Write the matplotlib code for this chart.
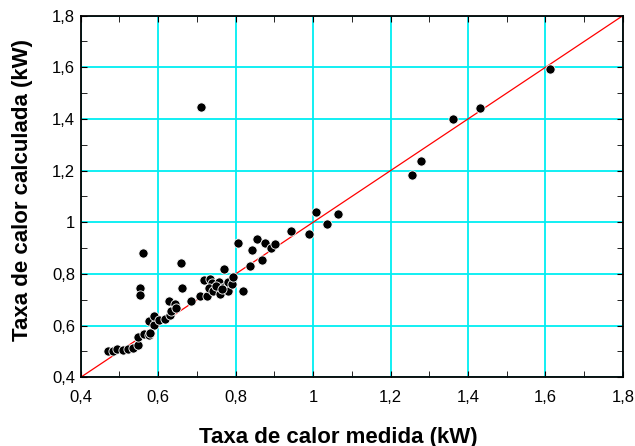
import numpy as np
import matplotlib.pyplot as plt
from matplotlib.ticker import MultipleLocator, FuncFormatter

## dados
medida = [0.470, 0.483, 0.495, 0.509, 0.521, 0.535, 0.547, 0.549, 0.564, 0.576,
          0.577, 0.590, 0.590, 0.603, 0.618, 0.631, 0.628, 0.633, 0.644, 0.646,
          0.554, 0.554, 0.562, 0.658, 0.661, 0.686, 0.709, 0.719, 0.726, 0.735,
          0.739, 0.732, 0.742, 0.756, 0.770, 0.761, 0.770, 0.780, 0.781, 0.792,
          0.794, 0.805, 0.818, 0.843, 0.855, 0.837, 0.868, 0.877, 0.892, 0.901,
          0.942, 0.990, 1.007, 1.035, 1.065, 1.255, 1.279, 1.362, 1.431, 1.612,
          0.711, 0.750, 0.765, 0.580]
calculada = [0.501, 0.503, 0.509, 0.505, 0.508, 0.515, 0.525, 0.556, 0.568, 0.564,
             0.617, 0.602, 0.639, 0.622, 0.627, 0.643, 0.696, 0.655, 0.683, 0.669,
             0.744, 0.718, 0.882, 0.843, 0.744, 0.697, 0.715, 0.778, 0.714, 0.782,
             0.764, 0.746, 0.733, 0.767, 0.821, 0.724, 0.749, 0.733, 0.769, 0.762,
             0.790, 0.919, 0.735, 0.893, 0.937, 0.830, 0.853, 0.918, 0.900, 0.916,
             0.967, 0.954, 1.040, 0.994, 1.032, 1.183, 1.239, 1.400, 1.441, 1.595,
             1.445, 0.755, 0.740, 0.572]
limites = [0.4, 1.8]

plt.rcParams['font.family'] = ['Liberation Sans', 'DejaVu Sans']

fig = plt.figure(figsize=(6.35, 4.46), dpi=100)
ax = fig.add_axes([0.127, 0.154, 0.854, 0.811])

ax.grid(True, which='major', color='#00eef2', linewidth=1.3, zorder=0)
ax.plot(limites, limites, color='red', linewidth=0.9, zorder=2)
ax.scatter(medida, calculada, s=44, c='black', edgecolors='white',
           linewidths=0.6, zorder=3)

ax.set_xlim(limites)
ax.set_ylim(limites)
ax.xaxis.set_major_locator(MultipleLocator(0.2))
ax.yaxis.set_major_locator(MultipleLocator(0.2))
ax.xaxis.set_minor_locator(MultipleLocator(0.1))
ax.yaxis.set_minor_locator(MultipleLocator(0.1))

def virgula(v, pos):
    s = ('%.1f' % v).rstrip('0').rstrip('.')
    return s.replace('.', ',')

ax.xaxis.set_major_formatter(FuncFormatter(virgula))
ax.yaxis.set_major_formatter(FuncFormatter(virgula))
ax.tick_params(which='both', direction='in', top=True, right=True,
               labelsize=12, color='black', length=4)
ax.tick_params(axis='x', which='major', pad=9)
ax.tick_params(axis='y', which='major', pad=4)
for s in ax.spines.values():
    s.set_linewidth(1.3)

fig.text(338 / 635, 1 - 437 / 446, 'Taxa de calor medida (kW)', fontsize=16,
         fontweight='bold', ha='center', va='center')
fig.text(23 / 635, 1 - 190 / 446, 'Taxa de calor calculada (kW)', fontsize=16,
         fontweight='bold', ha='center', va='center', rotation=90)

fig.savefig('out.png', dpi=100)
